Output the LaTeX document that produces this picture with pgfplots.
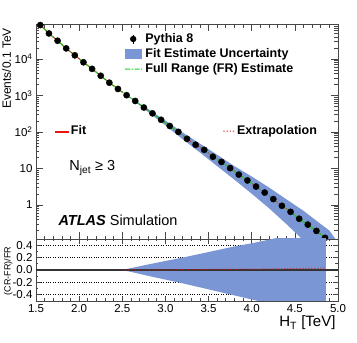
\documentclass[border=0pt]{standalone}
\usepackage{pgfplots}
\pgfplotsset{compat=1.18}
\usepackage{fontspec}
\setmainfont{Liberation Sans}
\definecolor{bandblue}{RGB}{122,150,212}
\definecolor{fitgreen}{RGB}{20,210,20}
\definecolor{fitred}{RGB}{230,20,20}
\definecolor{frame}{RGB}{70,70,70}
\begin{document}
\begin{tikzpicture}
\useasboundingbox (0,0) rectangle (357pt,343pt);
\pgfplotsset{
  rootax/.style={
    scale only axis, width=302pt, anchor=south west,
    xmin=1.5, xmax=5.0,
    xtick={1.5,2.0,2.5,3.0,3.5,4.0,4.5,5.0},
    minor x tick num=4,
    tick align=inside,
    xtick pos=both, ytick pos=both,
    axis line style={line width=0.9pt, frame},
    every tick/.style={frame, line width=0.7pt},
    tick label style={font=\fontsize{11.5}{12}\selectfont},
    clip marker paths=false,
  },
  legtext/.style={draw opacity=0, fill opacity=0, text opacity=1, inner sep=0pt, outer sep=0pt,
    font=\bfseries\fontsize{12.5}{14}\selectfont, nodes={inner sep=0pt}, column sep=3pt}
}
% ---------------- top panel ----------------
\begin{axis}[rootax, at={(36pt,104pt)}, height=214.5pt,
  ymode=log, ymin=0.117, ymax=88100,
  ytick={1,10,100,1000,10000},
  yticklabels={1,10,10\textsuperscript{2},10\textsuperscript{3},10\textsuperscript{4}},
  minor ytick={0.2,0.3,0.4,0.5,0.6,0.7,0.8,0.9,2,3,4,5,6,7,8,9,20,30,40,50,60,70,80,90,200,300,400,500,600,700,800,900,2000,3000,4000,5000,6000,7000,8000,9000,20000,30000,40000,50000,60000,70000,80000},
  xticklabels={},
  major tick length=7pt, minor tick length=3.5pt,
  legend style={legtext, at={(0.2947,0.957)}, anchor=north west, row sep=4.5pt},
  legend cell align=left,
]
\addlegendimage{legend image code/.code={\path (0pt,0pt) -- (17pt,0pt);\draw[draw=black, draw opacity=1, line width=0.8pt] (8pt,-4.5pt) -- (8pt,4.5pt);\fill[fill=black, fill opacity=1] (8pt,0pt) circle (3.2pt);}}
\addlegendentry{Pythia 8}
\addlegendimage{legend image code/.code={\fill[fill=bandblue, fill opacity=1] (0pt,-5pt) rectangle (17pt,5pt);}}
\addlegendentry{Fit Estimate Uncertainty}
\addlegendimage{legend image code/.code={\path (0pt,-5pt) rectangle (17pt,5pt);\fill[fill=fitgreen, fill opacity=1] (0pt,-0.55pt) rectangle (5pt,0.55pt) (6.5pt,-0.55pt) rectangle (8pt,0.55pt) (9.5pt,-0.55pt) rectangle (14.5pt,0.55pt) (16pt,-0.55pt) rectangle (17pt,0.55pt);}}
\addlegendentry{Full Range (FR) Estimate}

% uncertainty band
\addplot[forget plot, fill=bandblue, draw=none] coordinates {
 (2.4,1841) (2.5,1245) (2.6,877) (2.8,424) (3.0,206) (3.2,96.5) (3.4,47.9) (3.6,23.7) (3.8,11.6) (4.0,6.03) (4.2,3.02) (4.4,1.44) (4.6,0.694) (4.8,0.30) (4.9,0.20) (4.97,0.117)
 (4.97,0.01) (4.8,0.036) (4.6,0.107) (4.4,0.303) (4.2,0.818) (4.0,2.04) (3.8,4.91) (3.6,11.6) (3.4,27.4) (3.2,63.1) (3.0,152) (2.8,352) (2.6,825) (2.5,1245) (2.4,1841)
} -- cycle;

% Pythia 8 points
\addplot[forget plot, only marks, mark=*, mark size=3.1pt, black] coordinates {
 (1.55,85100) (1.65,50100) (1.75,31600) (1.85,19500) (1.95,12600)
 (2.05,8130) (2.15,5370) (2.25,3470) (2.35,2240) (2.45,1510)
 (2.55,1020) (2.65,708) (2.75,468) (2.85,324) (2.95,216)
 (3.05,146) (3.15,101) (3.25,65) (3.35,44.7) (3.45,32.4)
 (3.55,21.0) (3.65,15.1) (3.75,10.2) (3.85,6.8) (3.95,4.7)
 (4.05,3.2) (4.15,2.19) (4.25,1.45) (4.35,0.95) (4.45,0.65)
 (4.55,0.42) (4.65,0.29) (4.75,0.195) (4.85,0.126)
};

% fit (red solid)
\addplot[forget plot, fitred, line width=1pt] coordinates {
 (1.5,108000) (1.55,85100) (1.65,50100) (1.75,31600) (1.85,19500) (1.95,12600)
 (2.05,8130) (2.15,5370) (2.25,3470) (2.35,2240) (2.45,1510) (2.5,1245)
};
% extrapolation (red dotted)
\addplot[forget plot, fitred, line width=1pt, dotted] coordinates {
 (2.5,1245) (2.55,1020) (2.65,708) (2.75,468) (2.85,324) (2.95,216)
 (3.05,146) (3.15,101) (3.25,65) (3.35,44.7) (3.45,32.4)
 (3.55,21.0) (3.65,15.1) (3.75,10.2) (3.85,6.8) (3.95,4.7)
 (4.05,3.2) (4.15,2.19) (4.25,1.45) (4.35,0.95) (4.45,0.65)
 (4.55,0.42) (4.65,0.29) (4.75,0.195) (4.85,0.126) (4.9,0.10)
};
% full range estimate (green)
\addplot[forget plot, fitgreen, line width=1pt, dash pattern=on 5pt off 1.5pt on 1.5pt off 1.5pt] coordinates {
 (1.5,108000) (1.55,85100) (1.65,50100) (1.75,31600) (1.85,19500) (1.95,12600)
 (2.05,8130) (2.15,5370) (2.25,3470) (2.35,2240) (2.45,1510)
 (2.55,1020) (2.65,708) (2.75,468) (2.85,324) (2.95,216)
 (3.05,146) (3.15,101) (3.25,65) (3.35,44.7) (3.45,32.4)
 (3.55,21.0) (3.65,15.1) (3.75,10.2) (3.85,6.8) (3.95,4.7)
 (4.05,3.2) (4.15,2.19) (4.25,1.45) (4.35,0.95) (4.45,0.65)
 (4.55,0.42) (4.65,0.29) (4.75,0.195) (4.85,0.126) (4.9,0.10)
};

\node[anchor=base west, font=\fontsize{14.5}{15}\selectfont] at (rel axis cs:0.099,0.318) {N\textsubscript{jet} ≥ 3};
\node[anchor=base west, font=\fontsize{14.5}{15}\selectfont] at (rel axis cs:0.063,0.061) {\textbf{\textit{ATLAS}} Simulation};
\end{axis}

% Fit + Extrapolation legend (one row)
\begin{axis}[scale only axis, width=302pt, height=214.5pt, at={(36pt,104pt)}, anchor=south west,
  hide axis, xmin=0, xmax=1, ymin=0, ymax=1,
  legend columns=2,
  legend style={legtext, at={(0.063,0.503)}, anchor=west,
    /tikz/every odd column/.style={column sep=2.5pt},
    /tikz/every even column/.style={column sep=137pt}}]
\addlegendimage{legend image code/.code={\path (0pt,-5pt) rectangle (13pt,5pt);\fill[fill=fitred, fill opacity=1, draw=fitred, draw opacity=1, line width=0.1pt] (0pt,-0.55pt) rectangle (13pt,0.55pt);}}
\addlegendentry{Fit}
\addlegendimage{legend image code/.code={\path (0pt,-5pt) rectangle (11pt,5pt);\fill[fill=fitred, fill opacity=1] (0pt,-0.55pt) rectangle (1.2pt,0.55pt) (3.2pt,-0.55pt) rectangle (4.4pt,0.55pt) (6.4pt,-0.55pt) rectangle (7.6pt,0.55pt) (9.6pt,-0.55pt) rectangle (10.8pt,0.55pt);}}
\addlegendentry{Extrapolation}
\end{axis}

% ---------------- ratio panel ----------------
\begin{axis}[rootax, at={(36pt,42pt)}, height=62pt,
  ymin=-0.5, ymax=0.5,
  ytick={-0.4,-0.2,0,0.2,0.4},
  yticklabels={-0.4,-0.2,0.0,0.2,0.4},
  minor y tick num=1,
  xticklabels={1.5,2.0,2.5,3.0,3.5,4.0,4.5,5.0},
  major tick length=5pt, minor tick length=2.5pt,
  ymajorgrids, grid style={dotted, black, line width=0.7pt},
]
\addplot[fill=bandblue, draw=none] coordinates {
 (2.4,0) (2.5,0.003) (2.6,0.03) (2.8,0.09) (3.0,0.145) (3.2,0.20) (3.4,0.26) (3.6,0.32) (3.8,0.38) (4.0,0.43) (4.2,0.49) (4.4,0.55) (4.6,0.61) (4.86,0.69)
 (4.86,-0.79) (4.6,-0.69) (4.4,-0.61) (4.2,-0.54) (4.0,-0.475) (3.8,-0.41) (3.6,-0.345) (3.4,-0.28) (3.2,-0.215) (3.0,-0.155) (2.8,-0.095) (2.6,-0.03) (2.5,-0.003) (2.4,0)
} -- cycle;
\addplot[fitred, line width=0.8pt] coordinates {(1.5,0) (2.5,0)};
\addplot[black!80, line width=1.3pt] coordinates {(1.5,0) (5.0,0)};
\addplot[fitred, line width=1pt, dotted] coordinates {(2.5,0) (3.0,0.003) (3.5,0.008) (4.0,0.014) (4.5,0.022) (4.86,0.03)};
\end{axis}

% axis titles
\node[rotate=90, anchor=base east, font=\fontsize{12}{12}\selectfont] at (11pt,318.5pt) {Events/0.1 TeV};
\node[rotate=90, anchor=base east, font=\fontsize{9}{9}\selectfont] at (10.5pt,100pt) {(CR-FR)/FR};
\node[anchor=base east, font=\fontsize{15}{15}\selectfont] at (339pt,16pt) {H\textsubscript{T} [TeV]};
\end{tikzpicture}
\end{document}
